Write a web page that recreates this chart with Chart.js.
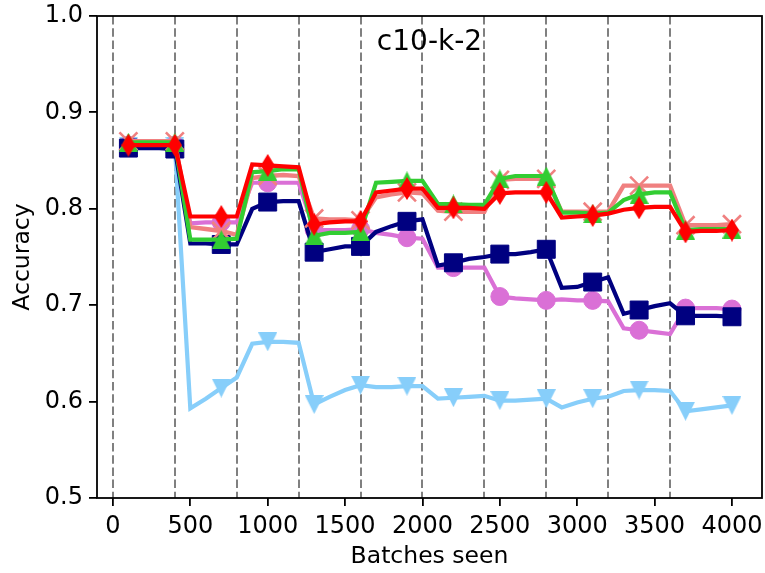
<!DOCTYPE html>
<html>
<head>
<meta charset="utf-8">
<script src="https://cdn.jsdelivr.net/npm/chart.js@4/dist/chart.umd.min.js"></script>
<style>
  html, body { margin: 0; padding: 0; background: #fff; }
</style>
</head>
<body>
<canvas id="acc" width="765" height="573"></canvas>
<script>
// batches seen, one reading every 100
const batches = [100, 200, 300, 400, 500, 600, 700, 800, 900, 1000,
  1100, 1200, 1300, 1400, 1500, 1600, 1700, 1800, 1900, 2000,
  2100, 2200, 2300, 2400, 2500, 2600, 2700, 2800, 2900, 3000,
  3100, 3200, 3300, 3400, 3500, 3600, 3700, 3800, 3900, 4000];

const skyBlue = [0.865, 0.865, 0.865, 0.865, 0.593, 0.603, 0.614, 0.625, 0.660, 0.662,
  0.662, 0.661, 0.597, 0.605, 0.612, 0.617, 0.615, 0.615, 0.616, 0.616,
  0.603, 0.604, 0.605, 0.606, 0.601, 0.601, 0.602, 0.603, 0.594, 0.599,
  0.603, 0.605, 0.611, 0.612, 0.612, 0.611, 0.590, 0.592, 0.594, 0.596];
const orchid = [0.866, 0.866, 0.866, 0.866, 0.785, 0.786, 0.786, 0.786, 0.827, 0.827,
  0.827, 0.827, 0.778, 0.778, 0.778, 0.779, 0.775, 0.773, 0.770, 0.769,
  0.739, 0.739, 0.739, 0.739, 0.709, 0.707, 0.706, 0.705, 0.706, 0.705,
  0.705, 0.704, 0.676, 0.674, 0.672, 0.670, 0.697, 0.697, 0.697, 0.696];
const navy = [0.863, 0.863, 0.863, 0.862, 0.764, 0.764, 0.763, 0.763, 0.800, 0.807,
  0.808, 0.808, 0.755, 0.758, 0.761, 0.761, 0.776, 0.782, 0.787, 0.789,
  0.741, 0.744, 0.748, 0.750, 0.753, 0.753, 0.755, 0.758, 0.718, 0.719,
  0.724, 0.729, 0.691, 0.695, 0.699, 0.702, 0.689, 0.689, 0.689, 0.688];
const coral = [0.870, 0.870, 0.870, 0.870, 0.781, 0.779, 0.777, 0.773, 0.832, 0.834,
  0.835, 0.834, 0.790, 0.789, 0.789, 0.788, 0.812, 0.815, 0.817, 0.816,
  0.798, 0.797, 0.797, 0.797, 0.830, 0.831, 0.831, 0.831, 0.797, 0.797,
  0.797, 0.797, 0.824, 0.824, 0.824, 0.824, 0.783, 0.783, 0.783, 0.784];
const green = [0.869, 0.869, 0.869, 0.869, 0.768, 0.768, 0.768, 0.769, 0.838, 0.839,
  0.841, 0.841, 0.772, 0.775, 0.775, 0.776, 0.827, 0.828, 0.829, 0.829,
  0.805, 0.805, 0.804, 0.804, 0.831, 0.834, 0.834, 0.834, 0.796, 0.796,
  0.795, 0.796, 0.809, 0.815, 0.817, 0.817, 0.778, 0.779, 0.779, 0.779];
const red = [0.866, 0.866, 0.866, 0.866, 0.792, 0.792, 0.792, 0.792, 0.846, 0.845,
  0.844, 0.843, 0.784, 0.786, 0.787, 0.787, 0.817, 0.819, 0.821, 0.821,
  0.801, 0.801, 0.801, 0.800, 0.816, 0.817, 0.817, 0.817, 0.791, 0.792,
  0.793, 0.795, 0.799, 0.801, 0.802, 0.802, 0.776, 0.777, 0.777, 0.778];

// task boundaries (dashed lines) and axis ticks
const boundaries = [0, 400, 800, 1200, 1600, 2000, 2400, 2800, 3200, 3600];
const xTicks = [0, 500, 1000, 1500, 2000, 2500, 3000, 3500, 4000];
const yTicks = [0.5, 0.6, 0.7, 0.8, 0.9, 1.0];

const FONT = '"DejaVu Sans", "Liberation Sans", sans-serif';

// filled polygon marker drawn on a small canvas
function shape(pts, w, h, color) {
  const c = document.createElement('canvas');
  c.width = w; c.height = h;
  const g = c.getContext('2d');
  g.fillStyle = color;
  g.beginPath();
  pts.forEach(([x, y], i) => i ? g.lineTo(x, y) : g.moveTo(x, y));
  g.closePath();
  g.fill();
  return c;
}
const triDown = shape([[0, 0], [19, 0], [9.5, 19]], 19, 19, '#87CEFA');
const triUp = shape([[9.5, 0], [19, 19], [0, 19]], 19, 19, '#32CD32');
const thinDiamond = shape([[7, 0], [14, 11.5], [7, 23], [0, 11.5]], 14, 23, '#FF0000');

// markers only every 300 batches
const onMark = ctx => (batches[ctx.dataIndex] - 100) % 300 === 0;

function series(vals, color, style, radius, order, width) {
  return {
    data: batches.map((b, i) => ({ x: b, y: vals[i] })),
    borderColor: color,
    backgroundColor: color,
    borderWidth: width || 4.2,
    pointStyle: style,
    pointRadius: ctx => onMark(ctx) ? radius : 0,
    pointBorderColor: color,
    pointBackgroundColor: color,
    pointBorderWidth: style === 'crossRot' ? 2.6 : 1,
    tension: 0,
    order: order
  };
}

const boundaryLines = {
  id: 'boundaryLines',
  beforeDatasetsDraw(chart) {
    const { ctx, chartArea: a, scales: { x } } = chart;
    ctx.save();
    ctx.strokeStyle = '#808080';
    ctx.lineWidth = 2;
    ctx.setLineDash([8.5, 3.7]);
    boundaries.forEach(b => {
      const px = Math.round(x.getPixelForValue(b));
      ctx.beginPath();
      ctx.moveTo(px, a.top);
      ctx.lineTo(px, a.bottom);
      ctx.stroke();
    });
    ctx.restore();
  }
};

const frame = {
  id: 'frame',
  afterDatasetsDraw(chart) {
    const { ctx, chartArea: a } = chart;
    ctx.save();
    ctx.strokeStyle = '#000';
    ctx.lineWidth = 1.8;
    ctx.strokeRect(a.left, a.top, a.right - a.left, a.bottom - a.top);
    ctx.font = '28px ' + FONT;
    ctx.fillStyle = '#000';
    ctx.textAlign = 'center';
    ctx.textBaseline = 'alphabetic';
    ctx.fillText('c10-k-2', (a.left + a.right) / 2, a.top + 34);
    ctx.restore();
  }
};

const tickFont = { family: FONT, size: 24 };
const labelFont = { family: FONT, size: 23.5 };

function noPad(s) {
  s.paddingLeft = 0; s.paddingRight = 0;
  s.paddingTop = 0; s.paddingBottom = 0;
}

new Chart(document.getElementById('acc'), {
  type: 'line',
  data: {
    datasets: [
      series(skyBlue, '#87CEFA', triDown, 10, 5),
      series(orchid, '#DA70D6', 'circle', 9, 4),
      series(navy, '#000080', 'rect', 12.7, 3),
      series(coral, '#F08080', 'crossRot', 12.7, 2, 4.4),
      series(green, '#32CD32', triUp, 10, 1),
      series(red, '#FF0000', thinDiamond, 10, 0)
    ]
  },
  options: {
    responsive: false,
    animation: false,
    layout: { autoPadding: false, padding: { top: 16, right: 3, left: 0, bottom: 0 } },
    plugins: { legend: { display: false }, tooltip: { enabled: false } },
    scales: {
      x: {
        type: 'linear',
        min: -103,
        max: 4194,
        afterBuildTicks: s => { s.ticks = xTicks.map(v => ({ value: v })); },
        afterFit: s => { s.height = 75; noPad(s); },
        ticks: { font: tickFont, color: '#000', padding: 6, maxRotation: 0, autoSkip: false, callback: v => String(v) },
        grid: { drawOnChartArea: false, color: '#000', lineWidth: 1.8, tickLength: 8 },
        border: { display: false },
        title: { display: true, text: 'Batches seen', font: labelFont, color: '#000', padding: { top: 0, bottom: 2 } }
      },
      y: {
        min: 0.5,
        max: 1.0,
        afterBuildTicks: s => { s.ticks = yTicks.map(v => ({ value: v })); },
        afterFit: s => { s.width = 97; noPad(s); },
        ticks: { font: tickFont, color: '#000', padding: 6, callback: v => v.toFixed(1) },
        grid: { drawOnChartArea: false, color: '#000', lineWidth: 1.8, tickLength: 8 },
        border: { display: false },
        title: { display: true, text: 'Accuracy', font: labelFont, color: '#000', padding: { top: 9, bottom: 0 } }
      }
    }
  },
  plugins: [boundaryLines, frame]
});
</script>
</body>
</html>
